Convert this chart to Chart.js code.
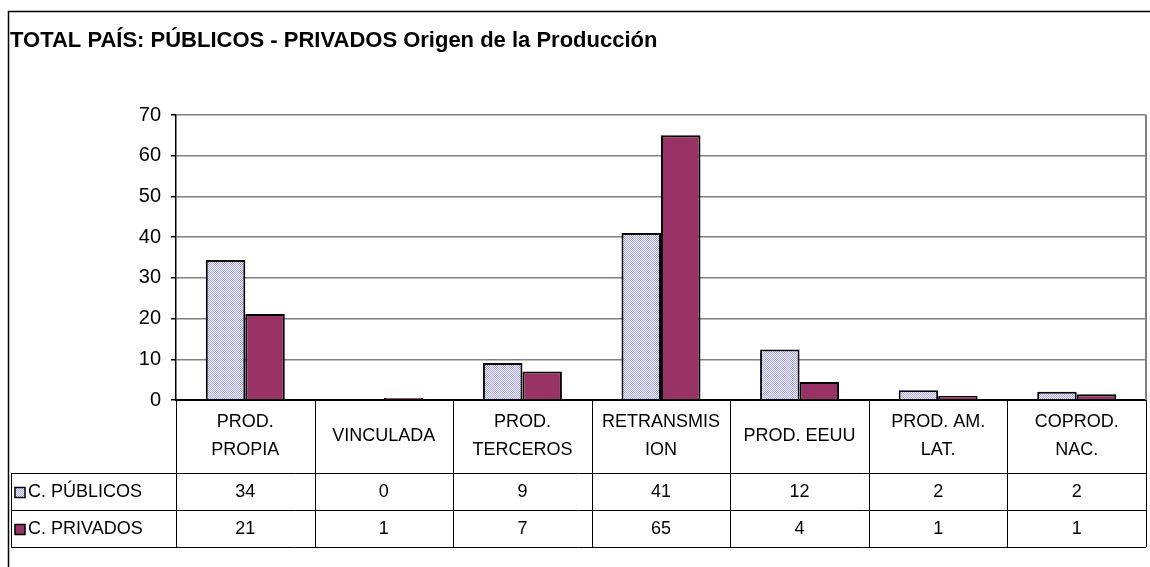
<!DOCTYPE html>
<html>
<head>
<meta charset="utf-8">
<script src="https://cdn.jsdelivr.net/npm/chart.js@4.4.1/dist/chart.umd.min.js"></script>
<style>
  html, body { margin: 0; padding: 0; background: #ffffff; }
  #wrap { width: 1150px; height: 567px; }
</style>
</head>
<body>
<div id="wrap"><canvas id="grafico" width="1150" height="567"></canvas></div>
<script>
// datos del gráfico
const categorias = [
  ["PROD.", "PROPIA"],
  ["VINCULADA"],
  ["PROD.", "TERCEROS"],
  ["RETRANSMIS", "ION"],
  ["PROD. EEUU"],
  ["PROD. AM.", "LAT."],
  ["COPROD.", "NAC."]
];
const publicos = [34.4, 0, 9.1, 41.0, 12.4, 2.4, 2.0];
const privados = [21.1, 0.5, 7.0, 65.0, 4.4, 1.0, 1.4];
const series = ["C. PÚBLICOS", "C. PRIVADOS"];
const ticksY = [0, 10, 20, 30, 40, 50, 60, 70];

const titulo = "TOTAL PAÍS: PÚBLICOS - PRIVADOS Origen de la Producción";
const fuente = "Arial, 'Liberation Sans', sans-serif";

// trama punteada para la serie de públicos
function trama() {
  const c = document.createElement("canvas");
  c.width = 2; c.height = 2;
  const g = c.getContext("2d");
  g.fillStyle = "#ffffff";
  g.fillRect(0, 0, 2, 2);
  g.fillStyle = "#9999ff";
  g.fillRect(0, 0, 1, 1);
  g.fillRect(1, 1, 1, 1);
  return g.createPattern(c, "repeat");
}
const colorPublicos = trama();
const colorPrivados = "#993366";

// marco, título y tabla de datos
const tablaPlugin = {
  id: "tabla",
  afterDraw(chart) {
    const ctx = chart.ctx;
    const area = chart.chartArea;
    const x = chart.scales.x;
    const n = categorias.length;
    const ancho = (area.right - area.left) / n;
    const filaCab = area.bottom + 73;
    const fila1 = filaCab + 37;
    const fila2 = fila1 + 37;
    const izq = 11;

    ctx.save();
    // marco exterior
    ctx.strokeStyle = "#000000";
    ctx.lineWidth = 1.5;
    ctx.beginPath();
    ctx.moveTo(1150, 11.5);
    ctx.lineTo(8.5, 11.5);
    ctx.lineTo(8.5, 567);
    ctx.stroke();

    // borde derecho del área de trazado
    ctx.strokeStyle = "#808080";
    ctx.lineWidth = 2;
    ctx.beginPath();
    ctx.moveTo(area.right, area.top);
    ctx.lineTo(area.right, area.bottom);
    ctx.stroke();

    // título
    ctx.fillStyle = "#000000";
    ctx.font = "bold 22px " + fuente;
    ctx.textAlign = "left";
    ctx.textBaseline = "alphabetic";
    ctx.fillText(titulo, 10, 47);

    // líneas de la tabla
    ctx.strokeStyle = "#000000";
    ctx.lineWidth = 1;
    ctx.beginPath();
    for (let i = 0; i <= n; i++) {
      const xi = Math.round(area.left + i * ancho) + 0.5;
      ctx.moveTo(xi, area.bottom);
      ctx.lineTo(xi, fila2);
    }
    [filaCab, fila1, fila2].forEach(y => {
      ctx.moveTo(izq, y + 0.5);
      ctx.lineTo(area.right, y + 0.5);
    });
    ctx.moveTo(izq + 0.5, filaCab);
    ctx.lineTo(izq + 0.5, fila2);
    ctx.stroke();

    // encabezados de categoría
    ctx.font = "18px " + fuente;
    ctx.textAlign = "center";
    ctx.textBaseline = "middle";
    const centroCab = (area.bottom + filaCab) / 2;
    categorias.forEach((lineas, i) => {
      const cx = x.getPixelForValue(i);
      const y0 = centroCab - (lineas.length - 1) * 14;
      lineas.forEach((t, k) => ctx.fillText(t, cx, y0 + k * 28));
    });

    // valores
    [publicos, privados].forEach((valores, s) => {
      const cy = s === 0 ? (filaCab + fila1) / 2 + 1 : (fila1 + fila2) / 2 + 1;
      valores.forEach((v, i) => {
        ctx.fillText(String(Math.round(v)), x.getPixelForValue(i), cy);
      });
      // clave de leyenda
      ctx.fillStyle = s === 0 ? colorPublicos : colorPrivados;
      ctx.fillRect(15, cy - 5, 10, 10);
      ctx.strokeStyle = "#000000";
      ctx.lineWidth = 1.5;
      ctx.strokeRect(15, cy - 5, 10, 10);
      ctx.fillStyle = "#000000";
      ctx.textAlign = "left";
      ctx.fillText(series[s], 28, cy);
      ctx.textAlign = "center";
    });
    ctx.restore();
  }
};

new Chart(document.getElementById("grafico"), {
  type: "bar",
  data: {
    labels: categorias.map(c => c.join(" ")),
    datasets: [
      {
        label: series[0],
        data: publicos,
        backgroundColor: colorPublicos,
        borderColor: "#000000",
        borderWidth: 2,
        categoryPercentage: 0.57,
        barPercentage: 1
      },
      {
        label: series[1],
        data: privados,
        backgroundColor: colorPrivados,
        borderColor: "#000000",
        borderWidth: 2,
        categoryPercentage: 0.57,
        barPercentage: 1
      }
    ]
  },
  options: {
    responsive: false,
    animation: false,
    layout: { padding: { top: 115, right: 4, bottom: 0, left: 0 } },
    plugins: {
      legend: { display: false },
      tooltip: { enabled: false }
    },
    scales: {
      x: {
        grid: { display: false },
        border: { display: true, color: "#000000", width: 2 },
        ticks: { display: false },
        afterFit: s => { s.height = 167; }
      },
      y: {
        min: 0,
        max: 70,
        afterBuildTicks: s => { s.ticks = ticksY.map(v => ({ value: v })); },
        grid: {
          color: "#808080",
          lineWidth: 1.5,
          tickColor: "#000000",
          tickLength: 5
        },
        border: { display: true, color: "#000000", width: 1.5 },
        ticks: {
          color: "#000000",
          padding: 10,
          font: { family: fuente, size: 20 }
        },
        afterFit: s => { s.width = 176; }
      }
    }
  },
  plugins: [tablaPlugin]
});
</script>
</body>
</html>
